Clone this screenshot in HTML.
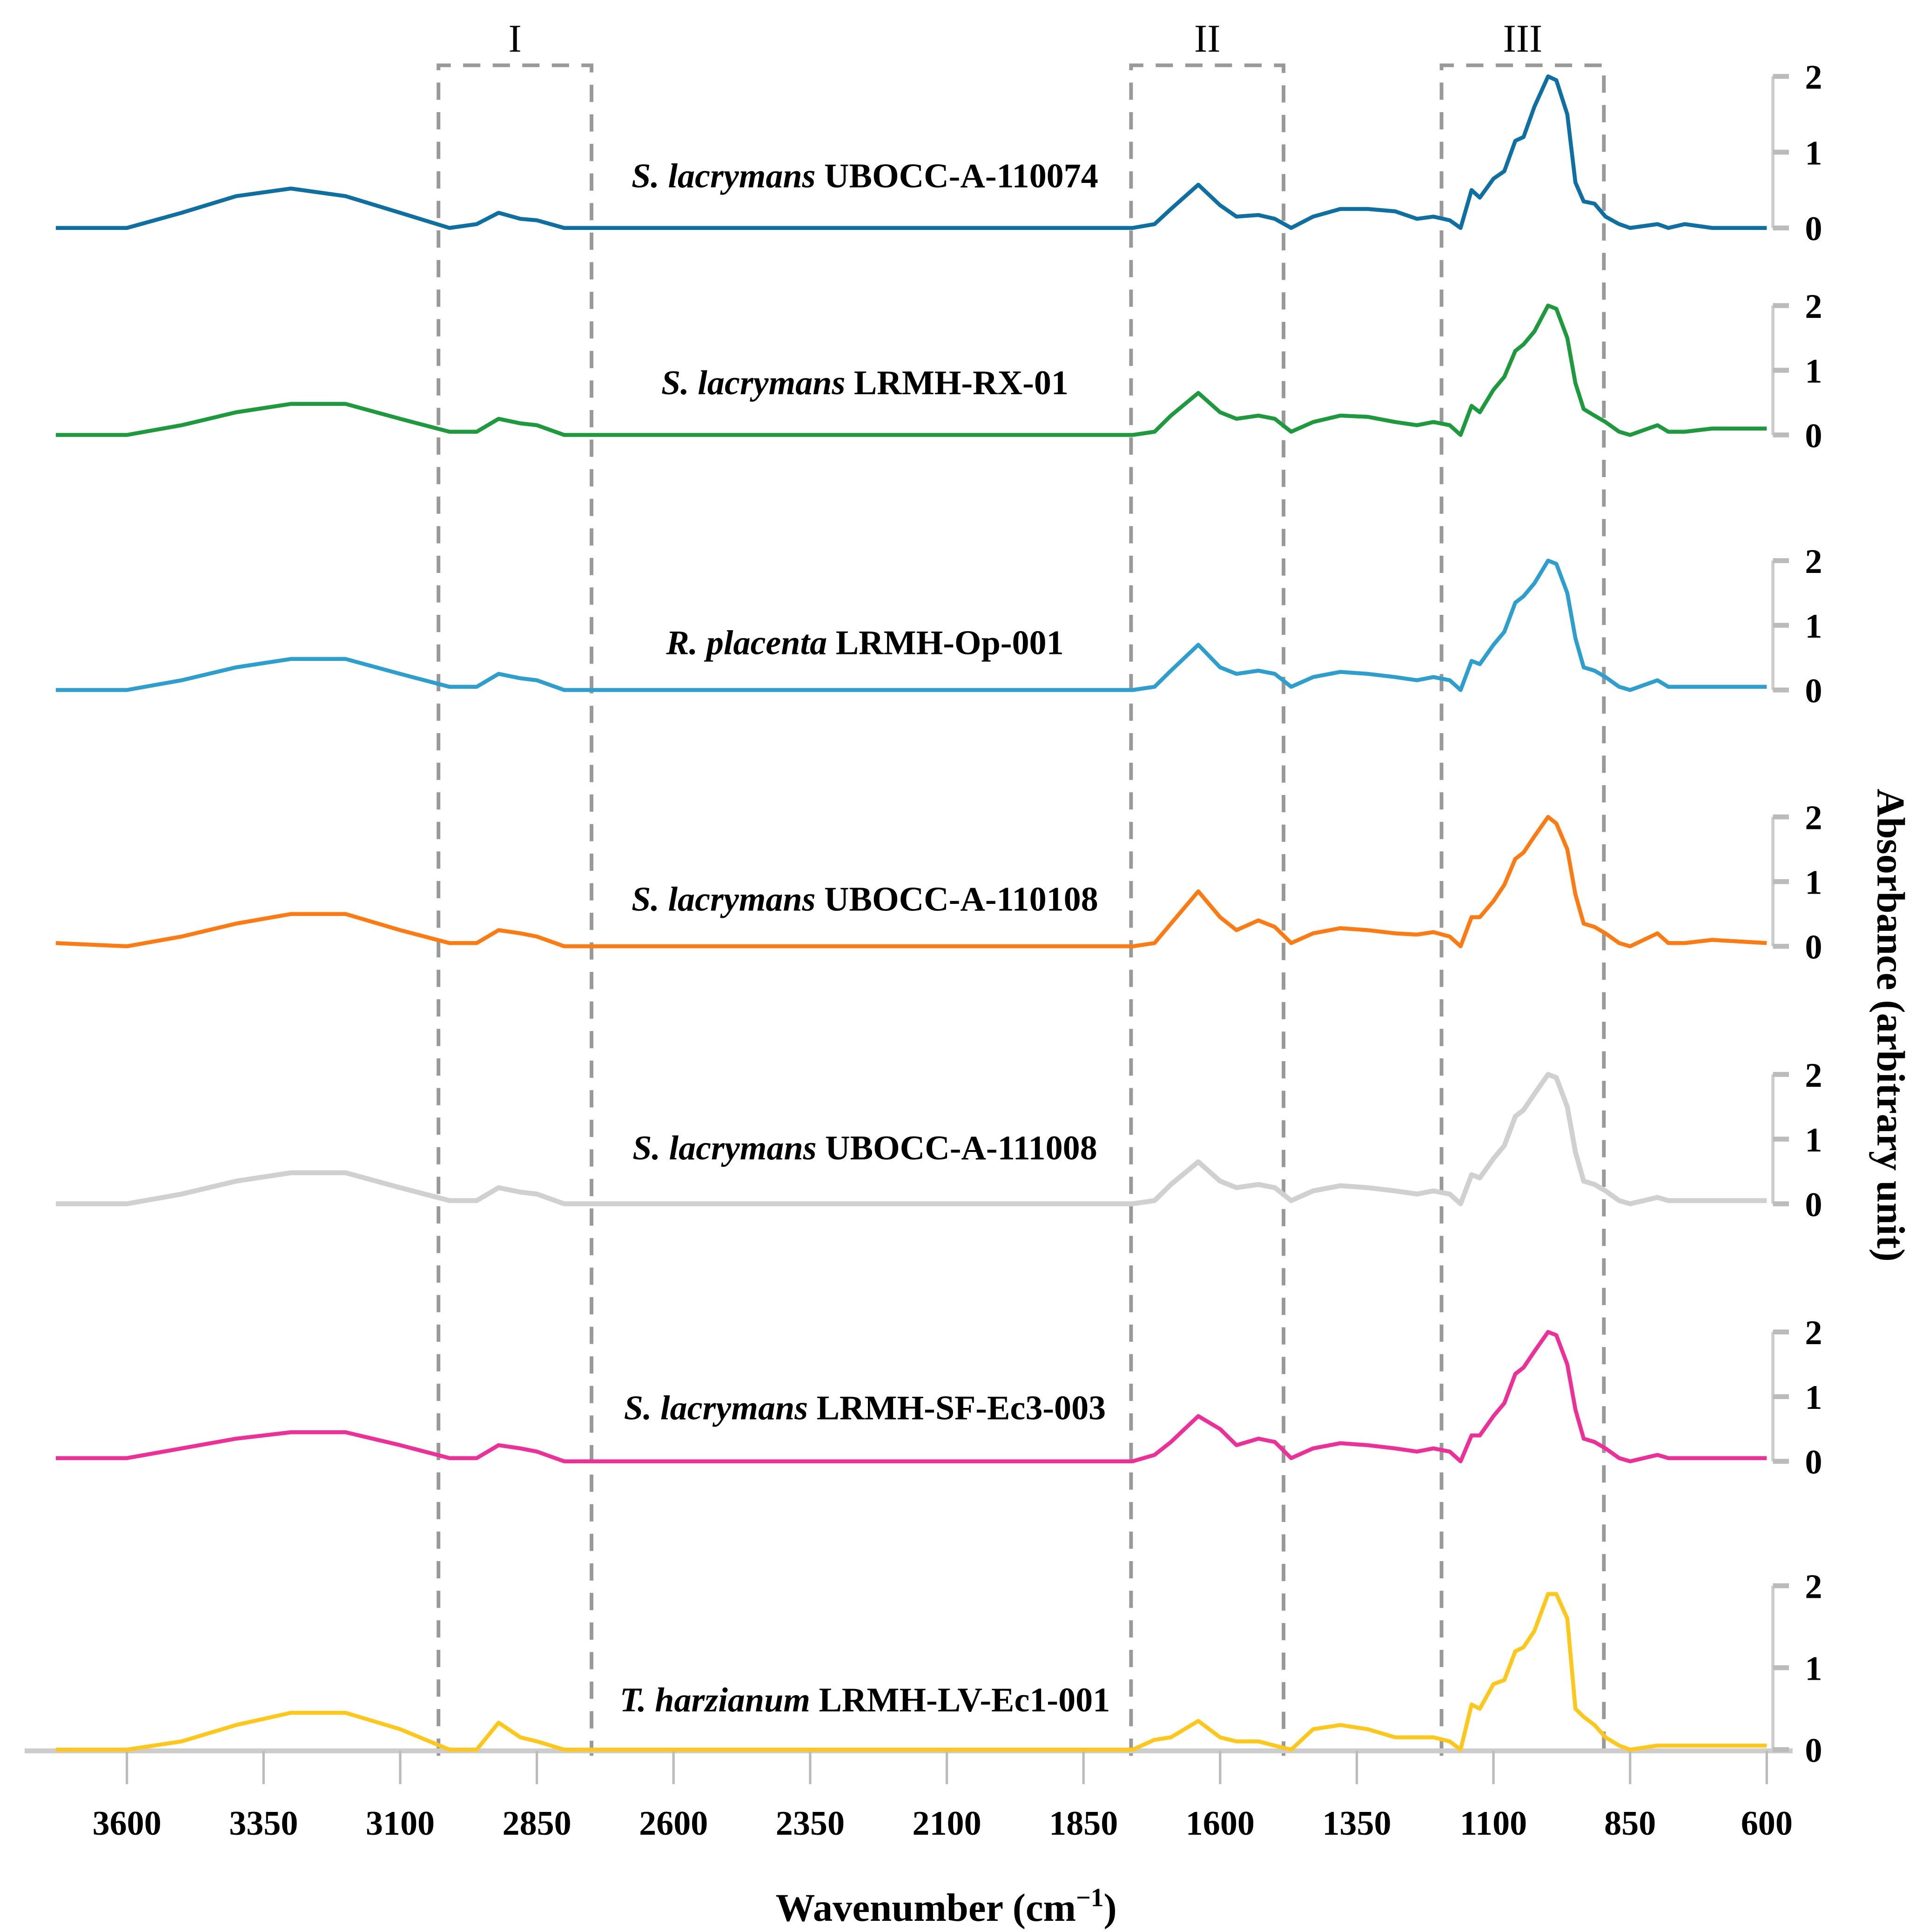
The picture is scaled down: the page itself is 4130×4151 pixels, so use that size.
<!DOCTYPE html>
<html><head><meta charset="utf-8"><style>
html,body{margin:0;padding:0;background:#fff;}
svg{display:block;}
text{font-family:"Liberation Serif",serif;}
</style></head><body>
<svg id="chart" width="4130" height="4151" viewBox="0 0 1560 1568" preserveAspectRatio="none" xmlns="http://www.w3.org/2000/svg">
<g id="boxes"></g>
<g id="xaxis"></g>
<g id="series"></g>
<text x="768" y="1559" font-size="32" font-weight="bold" text-anchor="middle">Wavenumber (cm<tspan font-size="21" dy="-12">−1</tspan><tspan dy="12">)</tspan></text>
<text x="0" y="0" font-size="32" font-weight="bold" text-anchor="middle" transform="translate(1524,832) rotate(90)">Absorbance (arbitrary unit)</text>
</svg>
<script>
const wavenumbers=[3730,3600,3500,3400,3300,3200,3100,3010,2960,2920,2880,2850,2800,2760,1760,1720,1690,1640,1600,1570,1530,1500,1470,1430,1380,1330,1280,1240,1210,1180,1160,1140,1125,1100,1080,1060,1045,1025,1000,985,965,950,935,915,895,870,850,800,780,750,700,600];
const s1=[0,0,0.2,0.42,0.52,0.42,0.2,0,0.05,0.2,0.12,0.1,0,0,0,0.05,0.25,0.57,0.3,0.15,0.17,0.12,0,0.15,0.25,0.25,0.22,0.12,0.15,0.1,0,0.5,0.4,0.65,0.75,1.15,1.2,1.6,2.0,1.95,1.5,0.6,0.35,0.32,0.15,0.05,0,0.05,0,0.05,0,0];
const s2=[0,0,0.15,0.35,0.48,0.48,0.25,0.05,0.05,0.25,0.18,0.15,0,0,0,0.05,0.3,0.65,0.35,0.25,0.3,0.25,0.05,0.2,0.3,0.28,0.2,0.15,0.2,0.15,0,0.45,0.35,0.7,0.9,1.3,1.4,1.6,2.0,1.95,1.5,0.8,0.4,0.3,0.2,0.05,0,0.15,0.05,0.05,0.1,0.1];
const s3=[0,0,0.15,0.35,0.48,0.48,0.25,0.05,0.05,0.25,0.18,0.15,0,0,0,0.05,0.3,0.7,0.35,0.25,0.3,0.25,0.05,0.2,0.28,0.25,0.2,0.15,0.2,0.15,0,0.45,0.4,0.7,0.9,1.35,1.45,1.65,2.0,1.95,1.5,0.8,0.35,0.3,0.2,0.05,0,0.15,0.05,0.05,0.05,0.05];
const s4=[0.05,0,0.15,0.35,0.5,0.5,0.25,0.05,0.05,0.25,0.2,0.15,0,0,0,0.05,0.35,0.85,0.45,0.25,0.4,0.3,0.05,0.2,0.28,0.25,0.2,0.18,0.22,0.15,0,0.45,0.45,0.7,0.95,1.35,1.45,1.7,2.0,1.9,1.5,0.8,0.35,0.3,0.2,0.05,0,0.2,0.05,0.05,0.1,0.05];
const s5=[0,0,0.15,0.35,0.48,0.48,0.25,0.05,0.05,0.25,0.18,0.15,0,0,0,0.05,0.3,0.65,0.35,0.25,0.3,0.25,0.05,0.2,0.28,0.25,0.2,0.15,0.2,0.15,0,0.45,0.4,0.7,0.9,1.35,1.45,1.7,2.0,1.95,1.5,0.8,0.35,0.3,0.2,0.05,0,0.1,0.05,0.05,0.05,0.05];
const s6=[0.05,0.05,0.2,0.35,0.45,0.45,0.25,0.05,0.05,0.25,0.2,0.15,0,0,0,0.1,0.3,0.7,0.5,0.25,0.35,0.3,0.05,0.2,0.28,0.25,0.2,0.15,0.2,0.15,0,0.4,0.4,0.7,0.9,1.35,1.45,1.7,2.0,1.95,1.5,0.8,0.35,0.3,0.2,0.05,0,0.1,0.05,0.05,0.05,0.05];
const s7=[0,0,0.1,0.3,0.45,0.45,0.25,0,0,0.33,0.15,0.1,0,0,0,0.12,0.15,0.35,0.15,0.1,0.1,0.05,0,0.25,0.3,0.25,0.15,0.15,0.15,0.1,0,0.55,0.5,0.8,0.85,1.2,1.25,1.45,1.9,1.9,1.6,0.5,0.4,0.3,0.15,0.05,0,0.05,0.05,0.05,0.05,0.05];
const seriesValues=[s1,s2,s3,s4,s5,s6,s7];
const seriesLabels=[["S. lacrymans"," UBOCC-A-110074"],["S. lacrymans"," LRMH-RX-01"],["R. placenta"," LRMH-Op-001"],["S. lacrymans"," UBOCC-A-110108"],["S. lacrymans"," UBOCC-A-111008"],["S. lacrymans"," LRMH-SF-Ec3-003"],["T. harzianum"," LRMH-LV-Ec1-001"]];
const seriesColors=["#0e6fa3","#1d9a3c","#2d9fcf","#ff7b12","#d0d0d0","#ee2f98","#ffc71a"];
const xTicks=[3600,3350,3100,2850,2600,2350,2100,1850,1600,1350,1100,850,600];
const yTicks=[0,1,2];
const regionLabels=["I","II","III"];
const regionRanges=[[3030,2750],[1763,1484],[1195,898]];
const base=[185,353,560,768,977,1186,1420];
const unit=[61.5,52.5,52.5,52.5,52.5,52.5,66.5];
const labelY=[142,310,521,729,931,1142,1379];
const NS="http://www.w3.org/2000/svg";
function xs(w){return 103+(3600-w)*(1331/3000);}
function mk(tag,attrs,parent){const e=document.createElementNS(NS,tag);for(const k in attrs)e.setAttribute(k,attrs[k]);parent.appendChild(e);return e;}
const gx=document.getElementById('xaxis'),gs=document.getElementById('series'),gb=document.getElementById('boxes');
const ax=mk('line',{x1:20,x2:1455,y1:1421,y2:1421,stroke:'#cccccc','stroke-width':4},gx);


xTicks.forEach(t=>{
 const l=mk('line',{x1:xs(t),x2:xs(t),y1:1421,y2:1448,stroke:'#bbbbbb','stroke-width':2},gx);
 
 
 const tx=mk('text',{x:xs(t),y:1489,'font-size':28,'font-weight':'bold','text-anchor':'middle'},gx);
 tx.textContent=t;
 
 
});
seriesValues.forEach((vals,i)=>{
 const g=mk('g',{},gs);
 
 
 const y0=base[i],u=unit[i];
 const ay=mk('line',{x1:1439,x2:1439,y1:y0-2*u,y2:y0,stroke:'#cccccc','stroke-width':2.5},g);
 
 
 yTicks.forEach(t=>{
  const yy=y0-t*u;
  const tl=mk('line',{x1:1439,x2:1452,y1:yy,y2:yy,stroke:'#bbbbbb','stroke-width':4},g);
  
  
  const tt=mk('text',{x:1465,y:yy+10,'font-size':28,'font-weight':'bold'},g);
  tt.textContent=t;
  
  
 });
 let d='';
 vals.forEach((v,j)=>{d+=(j?'L':'M')+xs(wavenumbers[j]).toFixed(1)+','+(y0-v*u).toFixed(1);});
 const p=mk('path',{d:d,fill:'none',stroke:seriesColors[i],'stroke-width':i==4?4:3.2,'stroke-linejoin':'round'},g);
 
 
 const lb=mk('text',{x:702,y:labelY[i]+10,'font-size':28,'font-weight':'bold','text-anchor':'middle'},g);
 
 
 const a=mk('tspan',{'font-style':'italic'},lb);a.textContent=seriesLabels[i][0];
 const b=mk('tspan',{},lb);b.textContent=seriesLabels[i][1];
});
regionRanges.forEach((r,i)=>{
 const x1=xs(r[0]),x2=xs(r[1]);
 const bx=mk('path',{d:`M${x1},1425L${x1},53L${x2},53L${x2},1425`,fill:'none',stroke:'#999999','stroke-width':3,'stroke-dasharray':'14 10'},gb);
 
 
 const t=mk('text',{x:(x1+x2)/2,y:42,'font-size':32,'text-anchor':'middle'},gb);
 t.textContent=regionLabels[i];
 
 
});
</script>
</body></html>
